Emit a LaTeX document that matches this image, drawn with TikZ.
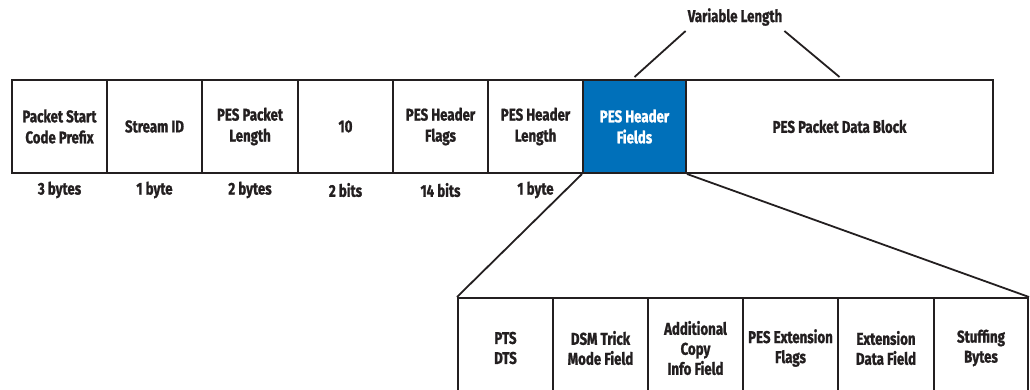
\documentclass[tikz,border=0pt]{standalone}
\usepackage{fontspec}
\setmainfont{Fira Sans}[FakeStretch=0.78, BoldFeatures={FakeBold=1.2}]
\definecolor{pesblue}{RGB}{0,112,186}
\definecolor{ink}{RGB}{35,31,32}

\begin{document}
\begin{tikzpicture}[x=1pt,y=-1pt,
  lbl/.style={inner sep=0pt, align=center, text=ink,
    font=\bfseries\fontsize{17}{21}\selectfont},
  cell/.style={lbl, draw=ink, line width=2pt, fill=white},
  sub/.style={cell, font=\bfseries\fontsize{17}{20}\selectfont},
  hilite/.style={cell, fill=pesblue, text=white},
  link/.style={draw=ink, line width=1.8pt}
]
\useasboundingbox (0,0) rectangle (1030,389);
\clip (0,0) rectangle (1030,389);

% main PES packet row
\node[cell, minimum width=95pt, minimum height=93pt] (psc)    at (59.5,126.5)  {Packet Start\\Code Prefix};
\node[cell, minimum width=95pt, minimum height=93pt] (sid)    at (154.5,126.5) {Stream ID};
\node[cell, minimum width=96pt, minimum height=93pt] (plen)   at (250,126.5)   {PES Packet\\Length};
\node[cell, minimum width=95pt, minimum height=93pt] (ten)    at (345.5,126.5) {10};
\node[cell, minimum width=95pt, minimum height=93pt] (hflags) at (440.5,126.5) {PES Header\\Flags};
\node[cell, minimum width=95pt, minimum height=93pt] (hlen)   at (535.5,126.5) {PES Header\\Length};
\node[cell, minimum width=307pt, minimum height=93pt] (data)  at (839.5,126.5) {PES Packet Data Block};
\node[hilite, minimum width=103pt, minimum height=93pt] (fields) at (634.5,126.5) {PES Header\\Fields};

% field sizes
\node[lbl] (s1) at (psc.center |- 0,190)    {3 bytes};
\node[lbl] (s2) at (sid.center |- 0,190)    {1 byte};
\node[lbl] (s3) at (plen.center |- 0,190)   {2 bytes};
\node[lbl] (s4) at (ten.center |- 0,190)    {2 bits};
\node[lbl] (s5) at (hflags.center |- 0,190) {14 bits};
\node[lbl] (s6) at (hlen.center |- 0,190)   {1 byte};

% variable-length bracket
\node[lbl, inner sep=1pt] (vl) at (735,17) {Variable Length};
\draw[link] ([xshift=-1pt,yshift=-4pt]vl.south west) -- ([yshift=2pt]fields.north);
\draw[link] ([xshift=1pt,yshift=-4pt]vl.south east) -- ([yshift=2pt]data.north);

% expanded header fields
\node[sub, minimum width=95pt, minimum height=100pt] (pts)  at (505.5,348) {PTS\\DTS};
\node[sub, minimum width=95pt, minimum height=100pt] (dsm)  at (600.5,348) {DSM Trick\\Mode Field};
\node[sub, minimum width=95pt, minimum height=100pt] (copy) at (695.5,348) {Additional\\Copy\\Info Field};
\node[sub, minimum width=95pt, minimum height=100pt] (ext)  at (790.5,348) {PES Extension\\Flags};
\node[sub, minimum width=96pt, minimum height=100pt] (exd)  at (886,348)   {Extension\\Data Field};
\node[sub, minimum width=94pt, minimum height=100pt] (stuff) at (981,348)  {Stuffing\\Bytes};

\draw[link] (fields.south west) -- (pts.north west);
\draw[link] (fields.south east) -- (stuff.north east);
\end{tikzpicture}
\end{document}
